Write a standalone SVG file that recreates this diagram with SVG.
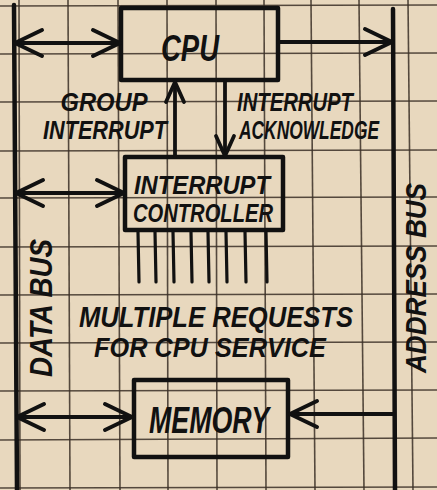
<svg xmlns="http://www.w3.org/2000/svg" width="437" height="490" viewBox="0 0 437 490">
<defs>
<style>
.grid line{stroke:#3b3027;stroke-width:1.6;opacity:0.85}
.ink{stroke:#111;fill:none;stroke-linecap:round;stroke-linejoin:round}
.box{stroke:#111;fill:none;stroke-width:4.5;stroke-linejoin:round}
.bus{stroke-width:4.5}
.wire{stroke-width:3.8}
.pin{stroke:#111;stroke-width:3.2;stroke-linecap:round}
.lbl{font-family:"Liberation Sans","DejaVu Sans",sans-serif;font-style:italic;font-weight:bold;fill:#111;text-anchor:middle}
</style>
<marker id="ah" viewBox="-32 -16 36 32" refX="0" refY="0" markerWidth="36" markerHeight="32" markerUnits="userSpaceOnUse" orient="auto-start-reverse" overflow="visible">
<path d="M-27,-13 L0,0 L-27,13" fill="none" stroke="#111" stroke-width="4" stroke-linecap="round" stroke-linejoin="round"/>
</marker>
<marker id="ahs" viewBox="-24 -12 28 24" refX="0" refY="0" markerWidth="28" markerHeight="24" markerUnits="userSpaceOnUse" orient="auto" overflow="visible">
<path d="M-20,-9 L0,0 L-20,9" fill="none" stroke="#111" stroke-width="3.8" stroke-linecap="round" stroke-linejoin="round"/>
</marker>
</defs>
<rect width="437" height="490" fill="#e8d8be"/>
<g class="grid">
<line x1="19" y1="0" x2="20" y2="490"/>
<line x1="68" y1="0" x2="70" y2="490"/>
<line x1="118" y1="0" x2="120" y2="490"/>
<line x1="167" y1="0" x2="168" y2="490"/>
<line x1="216" y1="0" x2="217" y2="490"/>
<line x1="264" y1="0" x2="266" y2="490"/>
<line x1="311" y1="0" x2="315" y2="490"/>
<line x1="359" y1="0" x2="364" y2="490"/>
<line x1="408" y1="0" x2="413" y2="490"/>
<line x1="0" y1="6" x2="437" y2="5"/>
<line x1="0" y1="54" x2="437" y2="53"/>
<line x1="0" y1="102" x2="437" y2="101"/>
<line x1="0" y1="151" x2="437" y2="150"/>
<line x1="0" y1="198" x2="437" y2="197"/>
<line x1="0" y1="247" x2="437" y2="246"/>
<line x1="0" y1="295" x2="437" y2="294"/>
<line x1="0" y1="343" x2="437" y2="342"/>
<line x1="0" y1="391" x2="437" y2="390"/>
<line x1="0" y1="440" x2="437" y2="438"/>
<line x1="0" y1="488" x2="437" y2="487"/>
</g>
<g id="data-bus">
<line class="ink bus" x1="14" y1="5" x2="17" y2="490"/>
<text class="lbl" font-size="32" textLength="138" lengthAdjust="spacingAndGlyphs" transform="translate(52,308) rotate(-90)">DATA BUS</text>
</g>
<g id="address-bus">
<line class="ink bus" x1="393" y1="9" x2="395" y2="490"/>
<text class="lbl" font-size="30" textLength="190" lengthAdjust="spacingAndGlyphs" transform="translate(426,278) rotate(-90)">ADDRESS BUS</text>
</g>
<g id="cpu">
<rect class="box" x="121" y="8" width="157" height="72"/>
<text class="lbl" x="190" y="61" font-size="36" textLength="58" lengthAdjust="spacingAndGlyphs">CPU</text>
</g>
<g id="interrupt-controller">
<rect class="box" x="125" y="157" width="158" height="73"/>
<text class="lbl" x="202" y="194" font-size="25" textLength="136" lengthAdjust="spacingAndGlyphs">INTERRUPT</text>
<text class="lbl" x="203" y="222" font-size="25" textLength="140" lengthAdjust="spacingAndGlyphs">CONTROLLER</text>
<line class="pin" x1="138" y1="232" x2="139" y2="282"/>
<line class="pin" x1="155" y1="232" x2="156" y2="282"/>
<line class="pin" x1="173" y1="232" x2="174" y2="282"/>
<line class="pin" x1="191" y1="232" x2="192" y2="282"/>
<line class="pin" x1="208" y1="232" x2="209" y2="282"/>
<line class="pin" x1="226" y1="232" x2="227" y2="282"/>
<line class="pin" x1="245" y1="232" x2="246" y2="282"/>
<line class="pin" x1="266" y1="232" x2="267" y2="282"/>
</g>
<g id="memory">
<rect class="box" x="134" y="380" width="154" height="77"/>
<text class="lbl" x="209" y="433" font-size="36" textLength="120" lengthAdjust="spacingAndGlyphs">MEMORY</text>
</g>
<g id="labels">
<text class="lbl" x="104" y="111" font-size="25" textLength="87" lengthAdjust="spacingAndGlyphs">GROUP</text>
<text class="lbl" x="105" y="139" font-size="25" textLength="124" lengthAdjust="spacingAndGlyphs">INTERRUPT</text>
<text class="lbl" x="295" y="111" font-size="25" textLength="116" lengthAdjust="spacingAndGlyphs">INTERRUPT</text>
<text class="lbl" x="309" y="139" font-size="25" textLength="140" lengthAdjust="spacingAndGlyphs">ACKNOWLEDGE</text>
<text class="lbl" x="216" y="327" font-size="30" textLength="274" lengthAdjust="spacingAndGlyphs">MULTIPLE REQUESTS</text>
<text class="lbl" x="210" y="357" font-size="28" textLength="232" lengthAdjust="spacingAndGlyphs">FOR CPU SERVICE</text>
</g>
<g id="connectors">
<line class="ink wire" x1="15" y1="43" x2="120" y2="43" marker-start="url(#ah)" marker-end="url(#ah)"/>
<line class="ink wire" x1="278" y1="42" x2="392" y2="42" marker-end="url(#ah)"/>
<line class="ink wire" x1="175" y1="157" x2="175" y2="82" marker-end="url(#ahs)"/>
<line class="ink wire" x1="225" y1="80" x2="225" y2="156" marker-end="url(#ahs)"/>
<line class="ink wire" x1="16" y1="193" x2="124" y2="193" marker-start="url(#ah)" marker-end="url(#ah)"/>
<line class="ink wire" x1="17" y1="417" x2="132" y2="417" marker-start="url(#ah)" marker-end="url(#ah)"/>
<line class="ink wire" x1="393" y1="414" x2="290" y2="414" marker-end="url(#ah)"/>
</g>
</svg>
